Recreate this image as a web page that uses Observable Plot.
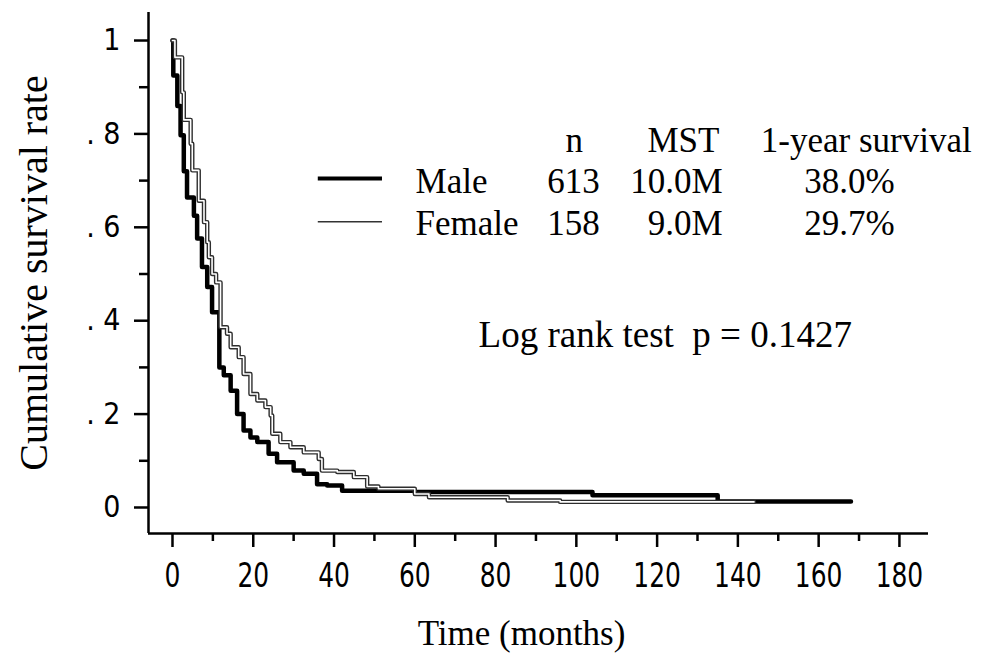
<!DOCTYPE html>
<html>
<head>
<meta charset="utf-8">
<script src="https://cdn.jsdelivr.net/npm/d3@7"></script>
<script src="https://cdn.jsdelivr.net/npm/@observablehq/plot@0.6"></script>
<style>
  html, body { margin: 0; padding: 0; background: white; }
  #chart svg { display: block; }
</style>
</head>
<body>
<div id="chart"></div>
<script>
// ---- Data (Kaplan–Meier step curves) ----
const maleT = [0, 0.2, 1.2, 2.0, 2.8, 3.6, 5.3, 6.1, 7.3, 8.6, 9.8, 11.6, 12.7, 14.4, 16.0, 17.6, 19.3, 21.0, 23.8, 25.9, 30.0, 32.5, 35.8, 38.3, 42.0, 60.0, 104.0, 135.0, 168.0];
const maleS = [1.00, 0.925, 0.86, 0.797, 0.72, 0.664, 0.625, 0.576, 0.515, 0.472, 0.418, 0.300, 0.283, 0.250, 0.200, 0.165, 0.150, 0.140, 0.115, 0.097, 0.079, 0.072, 0.050, 0.047, 0.036, 0.033, 0.026, 0.013, 0.013];

const femaleT = [0, 0.6, 2.4, 2.8, 4.5, 4.9, 6.5, 7.8, 8.6, 9.0, 9.8, 10.8, 11.9, 13.5, 14.4, 16.4, 17.6, 19.3, 21.0, 23.0, 24.3, 24.7, 26.7, 29.2, 32.5, 36.2, 37.0, 40.8, 44.9, 48.2, 51.0, 60.0, 63.5, 83.0, 96.0, 144.0];
const femaleS = [1.00, 0.964, 0.889, 0.830, 0.779, 0.722, 0.657, 0.611, 0.568, 0.536, 0.500, 0.482, 0.386, 0.372, 0.343, 0.322, 0.286, 0.243, 0.229, 0.215, 0.197, 0.158, 0.140, 0.129, 0.118, 0.104, 0.079, 0.076, 0.065, 0.045, 0.040, 0.029, 0.022, 0.015, 0.012, 0.012];

const xTicks = [0, 20, 40, 60, 80, 100, 120, 140, 160, 180];
const xMinorTicks = [10, 30, 50, 70, 90, 110, 130, 150, 170];
const yTicks = [0, 0.2, 0.4, 0.6, 0.8, 1];
const yTickLabels = ["0", ". 2", ". 4", ". 6", ". 8", "1"];
const yMinorTicks = [0.1, 0.3, 0.5, 0.7, 0.9];

const groups = ["Male", "Female"];
const nValues = ["613", "158"];
const mstValues = ["10.0M", "9.0M"];
const oneYearValues = ["38.0%", "29.7%"];
const headers = ["n", "MST", "1-year survival"];
const testText = "Log rank test  p = 0.1427";
const xTitle = "Time (months)";
const yTitle = "Cumulative survival rate";

// ---- Build tables ----
const male = maleT.map((t, i) => ({t, s: maleS[i]}));
const female = femaleT.map((t, i) => ({t, s: femaleS[i]}));

const xDomain = [-5.94, 187.2];
const yDomain = [-0.0557, 1.06];
const SANS = "'Liberation Sans Narrow', 'Arial Narrow', 'DejaVu Sans Condensed', 'Liberation Sans', sans-serif";
const SERIF = "'Liberation Serif', 'Times New Roman', serif";

// annotation layout (data units)
const rowS = [0.698, 0.608];
const headS = 0.786;
const lineS = [0.7045, 0.612];
const headX = [99.5, 126.5, 171.8];
const colN = 99.3, colMstRight = 136.2, colYr = 167.6, colName = 60.2;
const legX1 = 36.1, legX2 = 52.0;

const rows = groups.map((g, i) => ({g, n: nValues[i], mst: mstValues[i], yr: oneYearValues[i], s: rowS[i], ls: lineS[i]}));
const heads = headers.map((h, i) => ({h, x: headX[i]}));
const TFS = 35;

const chart = Plot.plot({
  width: 984,
  height: 662,
  marginLeft: 148,
  marginRight: 56,
  marginTop: 12,
  marginBottom: 129,
  x: {domain: xDomain},
  y: {domain: yDomain},
  style: {background: "white", color: "black"},
  marks: [
    Plot.axisX({ticks: xTicks, tickSize: 14, tickPadding: 16, fontSize: 33, fontFamily: SANS, strokeWidth: 2.5, label: null, tickFormat: d => String(d)}),
    Plot.axisX({ticks: xMinorTicks, tickSize: 8, strokeWidth: 2.5, label: null, tickFormat: () => ""}),
    Plot.axisY({ticks: yTicks, tickSize: 14, tickPadding: 14, fontSize: 30, fontFamily: SANS, strokeWidth: 2.5, label: null, tickFormat: d => yTickLabels[yTicks.indexOf(d)]}),
    Plot.axisY({ticks: yMinorTicks, tickSize: 9, strokeWidth: 2.5, label: null, tickFormat: () => ""}),
    Plot.ruleX([xDomain[0]], {strokeWidth: 2.5}),
    Plot.ruleY([yDomain[0]], {strokeWidth: 2.5}),
    // curves
    Plot.line(male, {x: "t", y: "s", curve: "step-after", stroke: "black", strokeWidth: 4.5}),
    Plot.line(female, {x: "t", y: "s", curve: "step-after", stroke: "#2e2e2e", strokeWidth: 4.4}),
    Plot.line(female, {x: "t", y: "s", curve: "step-after", stroke: "white", strokeWidth: 1.6}),
    // legend lines
    Plot.ruleY([rows[0]], {y: "ls", x1: legX1, x2: legX2, stroke: "black", strokeWidth: 4}),
    Plot.ruleY([rows[1]], {y: "ls", x1: legX1, x2: legX2, stroke: "#333", strokeWidth: 1.6}),
    // legend table
    Plot.text(heads, {x: "x", y: () => headS, text: "h", fontSize: TFS, fontFamily: SERIF, textAnchor: "middle"}),
    Plot.text(rows, {x: () => colName, y: "s", text: "g", fontSize: TFS, fontFamily: SERIF, textAnchor: "start"}),
    Plot.text(rows, {x: () => colN, y: "s", text: "n", fontSize: TFS, fontFamily: SERIF, textAnchor: "middle"}),
    Plot.text(rows, {x: () => colMstRight, y: "s", text: "mst", fontSize: TFS, fontFamily: SERIF, textAnchor: "end"}),
    Plot.text(rows, {x: () => colYr, y: "s", text: "yr", fontSize: TFS, fontFamily: SERIF, textAnchor: "middle"}),
    Plot.text([testText], {x: () => 75.8, y: () => 0.368, text: d => d, fontSize: 37, fontFamily: SERIF, textAnchor: "start"}),
    // axis titles
    Plot.text([xTitle], {frameAnchor: "bottom", dx: -17, dy: 111, text: d => d, fontSize: 35, fontFamily: SERIF, textAnchor: "middle"}),
    Plot.text([yTitle], {frameAnchor: "left", dx: -114, rotate: -90, text: d => d, fontSize: 40, fontFamily: SERIF, textAnchor: "middle"})
  ]
});
document.getElementById("chart").appendChild(chart);

// slightly condense x tick labels to match the narrow face of the reference
d3.select(chart).selectAll('g[aria-label="x-axis tick label"] text').each(function() {
  const w = this.getComputedTextLength();
  if (w > 0) {
    this.setAttribute("textLength", (w * 0.84).toFixed(1));
    this.setAttribute("lengthAdjust", "spacingAndGlyphs");
  }
});
</script>
</body>
</html>
